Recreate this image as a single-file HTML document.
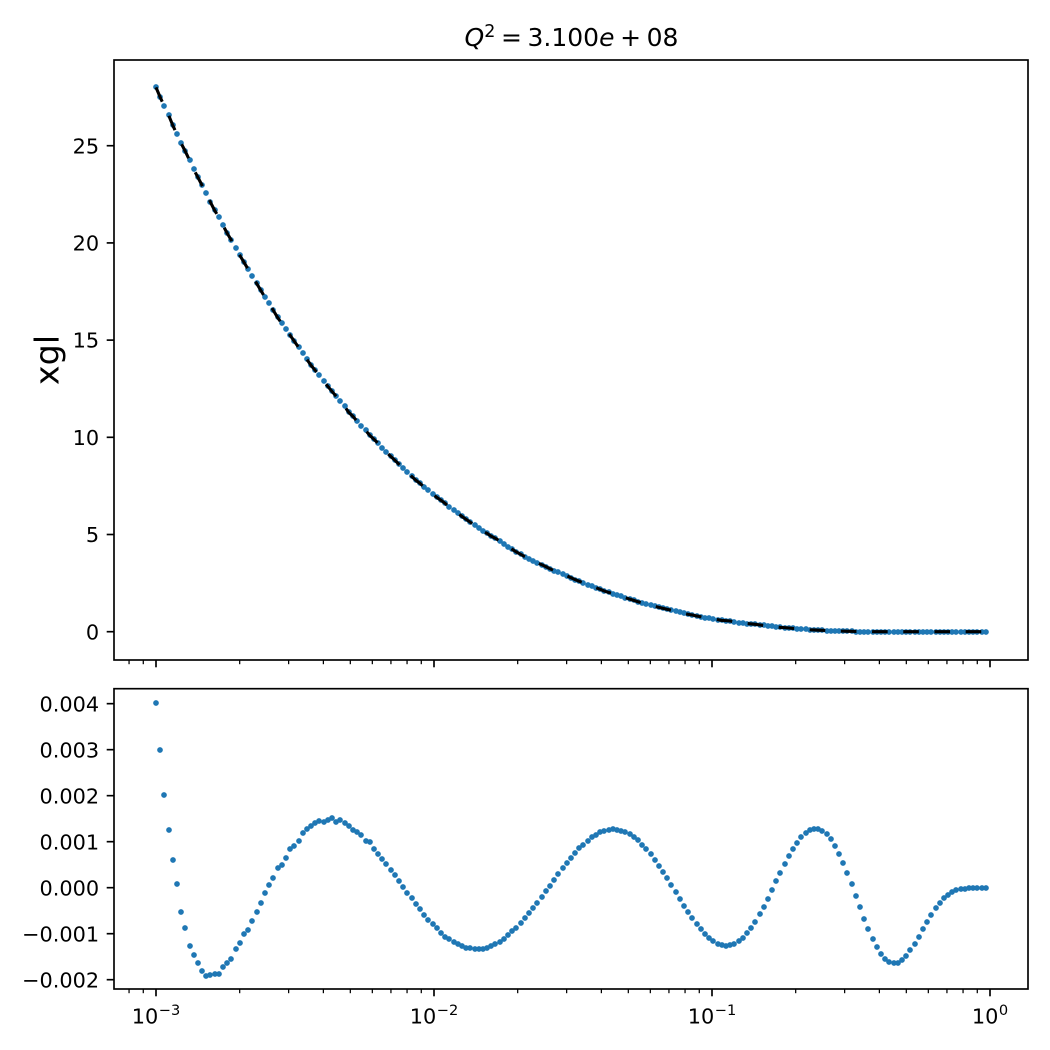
<!DOCTYPE html>
<html>
<head>
<meta charset="utf-8">
<title>xgl chart</title>
<style>
html,body{margin:0;padding:0;background:#fff;}
svg{display:block;}
text{font-family:"DejaVu Sans","Liberation Sans",sans-serif;fill:#000;}
</style>
</head>
<body>
<svg id="chart" xmlns="http://www.w3.org/2000/svg" width="1050" height="1050" viewBox="0 0 1050 1050">
  <text x="571.5" y="46" text-anchor="middle" font-size="25"><tspan font-style="italic">Q</tspan><tspan font-size="17.5" dy="-9">2</tspan><tspan dy="9" dx="5.6">=</tspan><tspan dx="5.6">3.100</tspan><tspan font-style="italic">e</tspan><tspan dx="5.6">+</tspan><tspan dx="5.6">08</tspan></text>
  <text transform="translate(58.3 360) rotate(-90)" text-anchor="middle" font-size="33.33">xgl</text>
</svg>
<script>
const logX = [
-3.0000,-2.9849,-2.9698,-2.9548,-2.9397,-2.9246,-2.9095,-2.8945,-2.8794,-2.8643,
-2.8492,-2.8342,-2.8191,-2.8040,-2.7889,-2.7739,-2.7588,-2.7437,-2.7286,-2.7136,
-2.6985,-2.6834,-2.6683,-2.6533,-2.6382,-2.6231,-2.6080,-2.5930,-2.5779,-2.5628,
-2.5477,-2.5327,-2.5176,-2.5025,-2.4874,-2.4724,-2.4573,-2.4422,-2.4271,-2.4121,
-2.3970,-2.3819,-2.3668,-2.3518,-2.3367,-2.3216,-2.3065,-2.2915,-2.2764,-2.2613,
-2.2462,-2.2312,-2.2161,-2.2010,-2.1859,-2.1709,-2.1558,-2.1407,-2.1256,-2.1106,
-2.0955,-2.0804,-2.0653,-2.0503,-2.0352,-2.0201,-2.0050,-1.9900,-1.9749,-1.9598,
-1.9447,-1.9296,-1.9146,-1.8995,-1.8844,-1.8693,-1.8543,-1.8392,-1.8241,-1.8090,
-1.7940,-1.7789,-1.7638,-1.7487,-1.7337,-1.7186,-1.7035,-1.6884,-1.6734,-1.6583,
-1.6432,-1.6281,-1.6131,-1.5980,-1.5829,-1.5678,-1.5528,-1.5377,-1.5226,-1.5075,
-1.4925,-1.4774,-1.4623,-1.4472,-1.4322,-1.4171,-1.4020,-1.3869,-1.3719,-1.3568,
-1.3417,-1.3266,-1.3116,-1.2965,-1.2814,-1.2663,-1.2513,-1.2362,-1.2211,-1.2060,
-1.1910,-1.1759,-1.1608,-1.1457,-1.1307,-1.1156,-1.1005,-1.0854,-1.0704,-1.0553,
-1.0402,-1.0251,-1.0101,-0.9950,-0.9799,-0.9648,-0.9497,-0.9347,-0.9196,-0.9045,
-0.8894,-0.8744,-0.8593,-0.8442,-0.8291,-0.8141,-0.7990,-0.7839,-0.7688,-0.7538,
-0.7387,-0.7236,-0.7085,-0.6935,-0.6784,-0.6633,-0.6482,-0.6332,-0.6181,-0.6030,
-0.5879,-0.5729,-0.5578,-0.5427,-0.5276,-0.5126,-0.4975,-0.4824,-0.4673,-0.4523,
-0.4372,-0.4221,-0.4070,-0.3920,-0.3769,-0.3618,-0.3467,-0.3317,-0.3166,-0.3015,
-0.2864,-0.2714,-0.2563,-0.2412,-0.2261,-0.2111,-0.1960,-0.1809,-0.1658,-0.1508,
-0.1357,-0.1206,-0.1055,-0.0905,-0.0754,-0.0603,-0.0452,-0.0302,-0.0151
];
const xglValues = [
28.00,27.49,27.02,26.58,26.05,25.58,25.12,24.71,24.25,23.78,
23.37,22.96,22.55,22.09,21.67,21.31,20.90,20.49,20.13,19.72,
19.36,19.00,18.64,18.28,17.92,17.56,17.20,16.89,16.53,16.17,
15.86,15.55,15.25,14.94,14.63,14.32,14.01,13.70,13.44,13.19,
12.88,12.62,12.36,12.11,11.85,11.59,11.28,11.08,10.82,10.57,
10.36,10.10,9.90,9.69,9.43,9.23,9.02,8.82,8.61,8.40,
8.20,7.99,7.79,7.63,7.43,7.27,7.07,6.91,6.76,6.60,
6.40,6.24,6.09,5.93,5.78,5.63,5.47,5.32,5.16,5.06,
4.91,4.80,4.67,4.51,4.38,4.24,4.10,3.98,3.86,3.76,
3.65,3.55,3.45,3.35,3.24,3.14,3.05,2.97,2.88,2.78,
2.68,2.59,2.51,2.42,2.33,2.26,2.18,2.09,2.02,1.96,
1.89,1.82,1.75,1.68,1.61,1.54,1.48,1.42,1.36,1.30,
1.25,1.20,1.15,1.10,1.05,1.00,0.94,0.89,0.86,0.81,
0.77,0.72,0.69,0.65,0.62,0.58,0.57,0.55,0.50,0.47,
0.45,0.42,0.40,0.38,0.35,0.32,0.29,0.27,0.25,0.22,
0.21,0.19,0.17,0.16,0.13,0.12,0.10,0.09,0.08,0.07,
0.06,0.05,0.04,0.03,0.03,0.02,0.02,0.01,0.01,0.01,
0.01,0,0,0,0,0,0,0,0,0,
0,0,0,0,0,0,0,0,0,0,
0,0,0,0,0,0,0,0,0
];
const residualValues = [
0.004007,0.002986,0.002007,0.001246,0.000594,0.000072,-0.000536,-0.000884,-0.001275,-0.001471,
-0.001645,-0.001819,-0.001928,-0.001906,-0.001884,-0.001884,-0.001732,-0.001645,-0.001558,-0.001341,
-0.001210,-0.001014,-0.000928,-0.000732,-0.000536,-0.000341,-0.000123,0.000051,0.000203,0.000420,
0.000486,0.000638,0.000833,0.000899,0.001007,0.001181,0.001268,0.001333,0.001399,0.001442,
0.001420,0.001464,0.001507,0.001420,0.001464,0.001399,0.001333,0.001246,0.001203,0.001138,
0.001007,0.000986,0.000833,0.000725,0.000616,0.000507,0.000377,0.000268,0.000138,0.000007,
-0.000123,-0.000232,-0.000362,-0.000471,-0.000601,-0.000710,-0.000797,-0.000884,-0.000993,-0.001080,
-0.001123,-0.001188,-0.001232,-0.001275,-0.001319,-0.001319,-0.001341,-0.001341,-0.001341,-0.001319,
-0.001275,-0.001232,-0.001188,-0.001123,-0.001036,-0.000949,-0.000884,-0.000775,-0.000667,-0.000558,
-0.000449,-0.000341,-0.000210,-0.000080,0.000029,0.000159,0.000290,0.000420,0.000529,0.000638,
0.000746,0.000855,0.000920,0.001007,0.001094,0.001138,0.001203,0.001225,0.001246,0.001268,
0.001246,0.001225,0.001203,0.001159,0.001094,0.001029,0.000920,0.000833,0.000725,0.000594,
0.000464,0.000333,0.000203,0.000051,-0.000101,-0.000254,-0.000406,-0.000536,-0.000667,-0.000797,
-0.000906,-0.001014,-0.001101,-0.001167,-0.001232,-0.001254,-0.001275,-0.001254,-0.001232,-0.001167,
-0.001101,-0.000993,-0.000884,-0.000754,-0.000580,-0.000428,-0.000254,-0.000058,0.000138,0.000312,
0.000507,0.000681,0.000833,0.000964,0.001094,0.001181,0.001246,0.001268,0.001268,0.001225,
0.001159,0.001051,0.000899,0.000725,0.000529,0.000312,0.000072,-0.000188,-0.000428,-0.000688,
-0.000906,-0.001123,-0.001297,-0.001449,-0.001558,-0.001623,-0.001645,-0.001645,-0.001580,-0.001493,
-0.001362,-0.001232,-0.001080,-0.000906,-0.000754,-0.000601,-0.000449,-0.000341,-0.000232,-0.000167,
-0.000101,-0.000058,-0.000036,-0.000036,-0.000014,-0.000014,-0.000014,-0.000014,-0.000014
];
const xTickExponents = [-3,-2,-1,0];
const xTickLabels = ["\u22123","\u22122","\u22121","0"];
const topYTicks = [0,5,10,15,20,25];
const topYTickLabels = ["0","5","10","15","20","25"];
const bottomYTicks = [-0.002,-0.001,0,0.001,0.002,0.003,0.004];
const bottomYTickLabels = ["\u22120.002","\u22120.001","0.000","0.001","0.002","0.003","0.004"];

const NS = "http://www.w3.org/2000/svg";
const svg = document.getElementById("chart");
const X_MIN = -3.15108, X_MAX = 0.13669;
const LEFT = 114, RIGHT = 1028;
const TOP_BOX = {top:60, bottom:660, vmin:-1.4558, vmax:29.4095};
const BOT_BOX = {top:688.7, bottom:989, vmin:-0.0022022, vmax:0.0043254};

function xScale(exp){ return LEFT + (exp - X_MIN) / (X_MAX - X_MIN) * (RIGHT - LEFT); }
function yScale(box, v){ return box.bottom - (v - box.vmin) / (box.vmax - box.vmin) * (box.bottom - box.top); }
function el(tag, attrs, parent){
  const e = document.createElementNS(NS, tag);
  for (const k in attrs) e.setAttribute(k, attrs[k]);
  (parent || svg).appendChild(e);
  return e;
}

function drawAxes(box, prefix){
  const xAxis = el("g", {});
  
  
  const yAxis = el("g", {});
  
  

  for (let d = -4; d <= 0; d++) {
    for (let k = 2; k <= 9; k++) {
      const e = d + Math.log10(k);
      if (e < X_MIN || e > X_MAX) continue;
      const px = xScale(e);
      const t = el("line", {x1:px, x2:px, y1:box.bottom, y2:box.bottom + 4.2, stroke:"#000", "stroke-width":1.25}, xAxis);
      
      
    }
  }
  xTickExponents.forEach(function(e){
    const px = xScale(e);
    const t = el("line", {x1:px, x2:px, y1:box.bottom, y2:box.bottom + 7.3, stroke:"#000", "stroke-width":1.67}, xAxis);
    
    
  });
  return {xAxis: xAxis, yAxis: yAxis};
}

function drawYTicks(box, yAxis, ticks, labels){
  ticks.forEach(function(v, i){
    const py = yScale(box, v);
    const t = el("line", {x1:LEFT - 7.3, x2:LEFT, y1:py, y2:py, stroke:"#000", "stroke-width":1.67}, yAxis);
    
    
    const l = el("text", {x:99.2, y:py + 7.6, "text-anchor":"end", "font-size":20.83}, yAxis);
    l.textContent = labels[i];
    
    
  });
}

function drawDots(box, values, groupName){
  const g = el("g", {fill:"#1f77b4"});
  
  
  values.forEach(function(v, i){
    const c = el("circle", {cx:Math.round(xScale(logX[i])), cy:Math.round(yScale(box, v)), r:2.85}, g);
    
    
  });
}

function drawFrame(box, name){
  const r = el("rect", {x:LEFT, y:box.top, width:RIGHT - LEFT, height:box.bottom - box.top, fill:"none", stroke:"#000", "stroke-width":1.67});
  
  
}

/* top panel */
const topAxes = drawAxes(TOP_BOX, "top");
drawYTicks(TOP_BOX, topAxes.yAxis, topYTicks, topYTickLabels);
drawDots(TOP_BOX, xglValues, 'xgl-points');
const refLine = el("polyline", {
  points: xglValues.map(function(v, i){ return xScale(logX[i]).toFixed(2) + "," + yScale(TOP_BOX, v).toFixed(2); }).join(" "),
  fill:"none", stroke:"#000", "stroke-width":3.1, "stroke-dasharray":"15.6 15.6"
});


drawFrame(TOP_BOX, 'top-plot-frame');

/* bottom panel */
const botAxes = drawAxes(BOT_BOX, "bottom");
drawYTicks(BOT_BOX, botAxes.yAxis, bottomYTicks, bottomYTickLabels);
xTickExponents.forEach(function(e, i){
  const t = el("text", {x:xScale(e), y:1023.3, "text-anchor":"middle", "font-size":20.83}, botAxes.xAxis);
  
  
  const base = el("tspan", {}, t);
  base.textContent = "10";
  const sup = el("tspan", {"font-size":14.6, dy:-8.4, dx:0.5}, t);
  sup.textContent = xTickLabels[i];
});
drawDots(BOT_BOX, residualValues, 'residual-points');
drawFrame(BOT_BOX, 'bottom-plot-frame');
</script>
</body>
</html>
